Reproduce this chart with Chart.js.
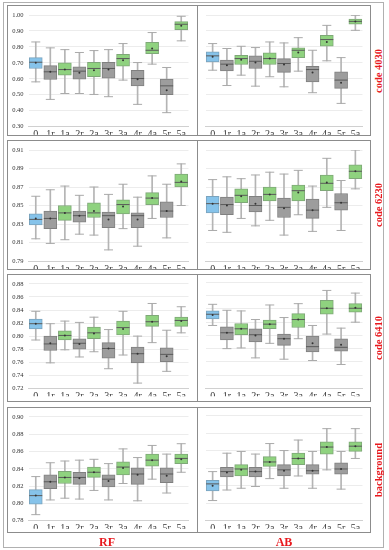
<!DOCTYPE html>
<html>
<head>
<meta charset="utf-8">
<script src="https://cdn.jsdelivr.net/npm/chart.js@4/dist/chart.umd.min.js"></script>
<style>
  html, body { margin: 0; padding: 0; background: #fff; }
  #fig { position: relative; width: 389px; height: 550px; overflow: hidden; }
  .box { position: absolute; box-sizing: border-box; border: 1px solid #8c8c8c; }
  .outer { border-color: #b0b0b0; }
  .vline { position: absolute; width: 1px; background: #8c8c8c; }
  canvas { position: absolute; }
  .lbl { position: absolute; color: #e8191e; font-family: "Liberation Serif", serif; font-weight: bold; white-space: nowrap; }
  .rot { transform: translate(-50%, -50%) rotate(-90deg); font-size: 10.5px; }
  .col { transform: translate(-50%, -50%); font-size: 12px; }
</style>
</head>
<body>
<div id="fig"></div>
<script>
// categories
const cats = ['0', '1r', '1a', '2r', '2a', '3r', '3a', '4r', '4a', '5r', '5a'];
const rowNames = ['code 4030', 'code 6230', 'code 6410', 'background'];
const colNames = ['RF', 'AB'];

// y axes: [min, max, step]
const yAxis4030 = [0.30, 1.00, 0.10];
const yAxis6230 = [0.79, 0.91, 0.02];
const yAxis6410 = [0.72, 0.88, 0.02];
const yAxisBg = [0.78, 0.90, 0.02];

// code 4030 - RF
const rf4030Min  = [0.581, 0.471, 0.508, 0.508, 0.502, 0.488, 0.592, 0.440, 0.692, 0.388, 0.838];
const rf4030Q1   = [0.665, 0.596, 0.623, 0.598, 0.613, 0.604, 0.679, 0.556, 0.758, 0.500, 0.908];
const rf4030Med  = [0.704, 0.644, 0.658, 0.648, 0.665, 0.665, 0.727, 0.602, 0.779, 0.556, 0.942];
const rf4030Q3   = [0.733, 0.683, 0.700, 0.675, 0.704, 0.704, 0.754, 0.654, 0.829, 0.598, 0.958];
const rf4030Max  = [0.831, 0.794, 0.783, 0.765, 0.777, 0.783, 0.821, 0.702, 0.890, 0.671, 0.992];
const rf4030Mean = [0.700, 0.644, 0.658, 0.638, 0.654, 0.658, 0.717, 0.598, 0.790, 0.529, 0.933];

// code 4030 - AB
const ab4030Min  = [0.654, 0.558, 0.623, 0.554, 0.613, 0.550, 0.648, 0.513, 0.713, 0.446, 0.904];
const ab4030Q1   = [0.706, 0.650, 0.690, 0.665, 0.690, 0.640, 0.733, 0.581, 0.804, 0.540, 0.942];
const ab4030Med  = [0.744, 0.692, 0.727, 0.710, 0.727, 0.696, 0.779, 0.658, 0.846, 0.592, 0.960];
const ab4030Q3   = [0.769, 0.717, 0.748, 0.744, 0.763, 0.727, 0.794, 0.679, 0.873, 0.644, 0.975];
const ab4030Max  = [0.821, 0.790, 0.804, 0.796, 0.831, 0.825, 0.858, 0.779, 0.935, 0.733, 0.998];
const ab4030Mean = [0.738, 0.685, 0.720, 0.702, 0.727, 0.690, 0.765, 0.640, 0.831, 0.575, 0.960];

// code 6230 - RF
const rf6230Min  = [0.814, 0.809, 0.813, 0.819, 0.818, 0.802, 0.825, 0.806, 0.836, 0.815, 0.850];
const rf6230Q1   = [0.829, 0.825, 0.834, 0.832, 0.837, 0.826, 0.841, 0.826, 0.851, 0.837, 0.870];
const rf6230Med  = [0.835, 0.836, 0.842, 0.839, 0.842, 0.839, 0.851, 0.839, 0.858, 0.844, 0.875];
const rf6230Q3   = [0.841, 0.844, 0.850, 0.844, 0.853, 0.843, 0.856, 0.842, 0.864, 0.854, 0.884];
const rf6230Max  = [0.860, 0.867, 0.871, 0.861, 0.870, 0.862, 0.873, 0.859, 0.882, 0.873, 0.895];
const rf6230Mean = [0.836, 0.836, 0.842, 0.839, 0.844, 0.835, 0.849, 0.835, 0.858, 0.844, 0.876];

// code 6230 - AB
const ab6230Min  = [0.823, 0.821, 0.836, 0.828, 0.834, 0.818, 0.840, 0.822, 0.848, 0.823, 0.868];
const ab6230Q1   = [0.842, 0.840, 0.853, 0.843, 0.855, 0.837, 0.855, 0.836, 0.866, 0.845, 0.879];
const ab6230Med  = [0.852, 0.851, 0.861, 0.850, 0.862, 0.848, 0.866, 0.845, 0.874, 0.853, 0.887];
const ab6230Q3   = [0.860, 0.859, 0.868, 0.860, 0.870, 0.858, 0.872, 0.857, 0.883, 0.863, 0.894];
const ab6230Max  = [0.878, 0.881, 0.879, 0.883, 0.886, 0.884, 0.888, 0.871, 0.901, 0.877, 0.910];
const ab6230Mean = [0.852, 0.850, 0.860, 0.852, 0.862, 0.847, 0.864, 0.845, 0.875, 0.853, 0.887];

// code 6410 - RF
const rf6410Min  = [0.794, 0.759, 0.779, 0.768, 0.776, 0.750, 0.771, 0.728, 0.790, 0.746, 0.805];
const rf6410Q1   = [0.811, 0.778, 0.794, 0.780, 0.796, 0.766, 0.802, 0.759, 0.815, 0.761, 0.815];
const rf6410Med  = [0.819, 0.788, 0.801, 0.789, 0.805, 0.781, 0.813, 0.773, 0.822, 0.772, 0.824];
const rf6410Q3   = [0.826, 0.800, 0.808, 0.796, 0.814, 0.790, 0.823, 0.783, 0.832, 0.782, 0.829];
const rf6410Max  = [0.838, 0.819, 0.823, 0.821, 0.829, 0.810, 0.838, 0.800, 0.850, 0.809, 0.845];
const rf6410Mean = [0.819, 0.789, 0.801, 0.788, 0.804, 0.781, 0.811, 0.773, 0.822, 0.769, 0.823];

// code 6410 - AB
const ab6410Min  = [0.815, 0.780, 0.781, 0.766, 0.788, 0.764, 0.795, 0.762, 0.802, 0.756, 0.820];
const ab6410Q1   = [0.825, 0.793, 0.801, 0.790, 0.810, 0.785, 0.812, 0.775, 0.832, 0.776, 0.835];
const ab6410Med  = [0.832, 0.804, 0.810, 0.801, 0.817, 0.795, 0.824, 0.783, 0.841, 0.782, 0.841];
const ab6410Q3   = [0.837, 0.813, 0.818, 0.810, 0.823, 0.802, 0.833, 0.799, 0.853, 0.795, 0.848];
const ab6410Max  = [0.847, 0.838, 0.837, 0.824, 0.846, 0.827, 0.848, 0.815, 0.868, 0.811, 0.864];
const ab6410Mean = [0.831, 0.804, 0.810, 0.800, 0.817, 0.795, 0.824, 0.788, 0.841, 0.786, 0.842];

// background - RF
const rfBgMin  = [0.787, 0.804, 0.806, 0.805, 0.815, 0.804, 0.823, 0.803, 0.828, 0.812, 0.836];
const rfBgQ1   = [0.799, 0.817, 0.823, 0.822, 0.830, 0.819, 0.833, 0.822, 0.843, 0.824, 0.846];
const rfBgMed  = [0.809, 0.825, 0.830, 0.830, 0.836, 0.828, 0.842, 0.834, 0.850, 0.834, 0.852];
const rfBgQ3   = [0.816, 0.833, 0.837, 0.836, 0.842, 0.833, 0.848, 0.841, 0.857, 0.841, 0.857];
const rfBgMax  = [0.831, 0.847, 0.849, 0.850, 0.851, 0.846, 0.863, 0.853, 0.867, 0.857, 0.869];
const rfBgMean = [0.809, 0.825, 0.830, 0.829, 0.836, 0.826, 0.841, 0.833, 0.850, 0.832, 0.851];

// background - AB
const abBgMin  = [0.803, 0.815, 0.817, 0.819, 0.828, 0.817, 0.831, 0.817, 0.838, 0.816, 0.851];
const abBgQ1   = [0.814, 0.830, 0.831, 0.830, 0.842, 0.831, 0.844, 0.833, 0.856, 0.833, 0.859];
const abBgMed  = [0.822, 0.836, 0.839, 0.836, 0.847, 0.838, 0.851, 0.837, 0.864, 0.839, 0.865];
const abBgQ3   = [0.826, 0.841, 0.844, 0.841, 0.853, 0.844, 0.857, 0.844, 0.870, 0.846, 0.870];
const abBgMax  = [0.836, 0.857, 0.859, 0.856, 0.868, 0.860, 0.872, 0.859, 0.885, 0.859, 0.885];
const abBgMean = [0.820, 0.835, 0.838, 0.836, 0.847, 0.837, 0.851, 0.837, 0.864, 0.839, 0.865];

// row layout (pixels) - box top/height and where the plot area sits
const rows = [
  { top: 5,   h: 131, areaTop: 15,    areaBottom: 126.7, y: yAxis4030,
    rf: [rf4030Min, rf4030Q1, rf4030Med, rf4030Q3, rf4030Max, rf4030Mean],
    ab: [ab4030Min, ab4030Q1, ab4030Med, ab4030Q3, ab4030Max, ab4030Mean] },
  { top: 140, h: 130, areaTop: 150,   areaBottom: 261,   y: yAxis6230,
    rf: [rf6230Min, rf6230Q1, rf6230Med, rf6230Q3, rf6230Max, rf6230Mean],
    ab: [ab6230Min, ab6230Q1, ab6230Med, ab6230Q3, ab6230Max, ab6230Mean] },
  { top: 274, h: 128, areaTop: 280,   areaBottom: 388.3, y: yAxis6410,
    rf: [rf6410Min, rf6410Q1, rf6410Med, rf6410Q3, rf6410Max, rf6410Mean],
    ab: [ab6410Min, ab6410Q1, ab6410Med, ab6410Q3, ab6410Max, ab6410Mean] },
  { top: 407, h: 126, areaTop: 412.7, areaBottom: 520.7, y: yAxisBg,
    rf: [rfBgMin, rfBgQ1, rfBgMed, rfBgQ3, rfBgMax, rfBgMean],
    ab: [abBgMin, abBgQ1, abBgMed, abBgQ3, abBgMax, abBgMean] }
];

const FONT = '"Liberation Serif", "Times New Roman", serif';

function boxColor(cat) {
  if (cat === '0') return '#86c3ea';
  return cat.endsWith('a') ? '#8fd27f' : '#9d9d9d';
}

function boxBorder(cat) {
  if (cat === '0') return '#7aa3bd';
  return cat.endsWith('a') ? '#7fa878' : '#808080';
}

document.addEventListener('DOMContentLoaded', function() {
  const fig = document.getElementById('fig');

  // outer frame
  addDiv(fig, 'box outer', { left: '3px', top: '2px', width: '381px', height: '546px' });

  rows.forEach(function(row, r) {
    addDiv(fig, 'box', { left: '7px', top: row.top + 'px', width: '364px', height: row.h + 'px' });
    addDiv(fig, 'vline', { left: '197px', top: row.top + 'px', height: row.h + 'px' });

    makePanel(fig, row, row.rf, true);
    makePanel(fig, row, row.ab, false);

    const lbl = addDiv(fig, 'lbl rot', { left: '378px', top: (row.top + row.h / 2) + 'px' });
    lbl.textContent = rowNames[r];
  });

  const rf = addDiv(fig, 'lbl col', { left: '107px', top: '542px' });
  rf.textContent = colNames[0];
  const ab = addDiv(fig, 'lbl col', { left: '284px', top: '542px' });
  ab.textContent = colNames[1];
});

function addDiv(parent, cls, style) {
  const d = document.createElement('div');
  d.className = cls;
  Object.assign(d.style, style);
  parent.appendChild(d);
  return d;
}

// one boxplot panel
function makePanel(fig, row, stats, isLeft) {
  const [mins, q1, med, q3, maxs, mean] = stats;
  const canvas = document.createElement('canvas');
  const left = isLeft ? 8 : 198;
  const width = isLeft ? 188 : 172;
  const top = row.top + 1;
  const height = row.h + 4;
  const xH = 8;
  canvas.width = width;
  canvas.height = height;
  canvas.style.left = left + 'px';
  canvas.style.top = top + 'px';
  fig.appendChild(canvas);

  const padTop = row.areaTop - top;
  const padBottom = (top + height) - row.areaBottom - xH;

  new Chart(canvas, {
    type: 'bar',
    data: {
      labels: cats,
      datasets: [
        { type: 'line', data: mean, showLine: false, pointStyle: 'circle', pointRadius: 1,
          pointBackgroundColor: '#333', pointBorderColor: '#333', pointBorderWidth: 0, order: 0 },
        { type: 'line', data: med, showLine: false, pointStyle: 'line', pointRadius: 6.5,
          borderColor: '#5a5a5a', pointBorderColor: '#5a5a5a', pointBorderWidth: 1, order: 1 },
        { type: 'bar', data: q1.map((v, i) => [v, q3[i]]), backgroundColor: cats.map(boxColor),
          borderColor: cats.map(boxBorder), borderWidth: 1, borderSkipped: false,
          barThickness: 13, grouped: false, order: 2 },
        { type: 'line', data: maxs, showLine: false, pointStyle: 'line', pointRadius: 4.5,
          borderColor: '#aaa', pointBorderColor: '#aaa', pointBorderWidth: 1, order: 3 },
        { type: 'line', data: mins, showLine: false, pointStyle: 'line', pointRadius: 4.5,
          borderColor: '#aaa', pointBorderColor: '#aaa', pointBorderWidth: 1, order: 3 },
        { type: 'bar', data: mins.map((v, i) => [v, maxs[i]]), backgroundColor: '#b4b4b4',
          borderWidth: 0, barThickness: 1, grouped: false, order: 4 }
      ]
    },
    options: {
      responsive: false,
      animation: false,
      events: [],
      layout: {
        padding: {
          top: padTop,
          bottom: padBottom,
          left: isLeft ? 0 : 1.5,
          right: isLeft ? 3.5 : 6.5
        }
      },
      plugins: { legend: { display: false }, tooltip: { enabled: false } },
      scales: {
        x: {
          offset: true,
          afterFit: function(s) { s.height = xH; },
          grid: { display: false, drawTicks: false },
          border: { display: true, color: '#d0d0d0' },
          ticks: { color: '#333', padding: 2, maxRotation: 0, autoSkip: false,
                   font: { family: FONT, size: 10 } }
        },
        y: {
          min: row.y[0],
          max: row.y[1],
          afterFit: function(s) { s.width = isLeft ? 20.5 : 0; },
          grid: { color: '#ececec', drawTicks: false },
          border: { display: false },
          ticks: {
            display: isLeft,
            stepSize: row.y[2],
            padding: 5,
            color: '#333',
            font: { family: FONT, size: 6.5 },
            callback: function(value) { return Number(value).toFixed(2); }
          }
        }
      }
    }
  });
}
</script>
</body>
</html>
